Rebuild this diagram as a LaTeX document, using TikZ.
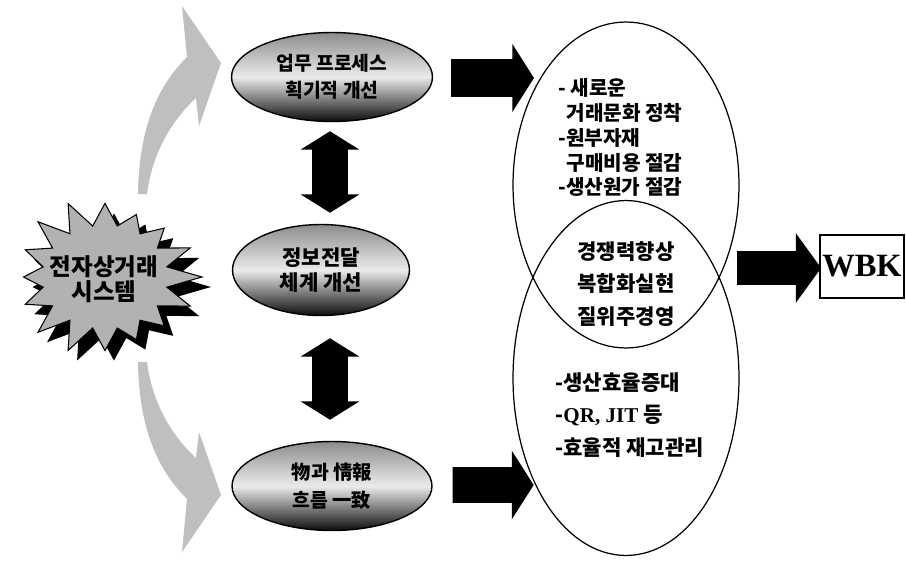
\documentclass[tikz,border=0pt]{standalone}
\usepackage{fontspec}
\setmainfont{Liberation Serif}
\newfontfamily\kr{Noto Sans CJK KR}
\usetikzlibrary{shapes.geometric,shapes.arrows}

\tikzset{
  oval/.style={ellipse, draw=black, line width=0.8pt, top color=black!45, bottom color=black!95,
    middle color=black!8, align=center, inner sep=0pt},
  bigoval/.style={ellipse, draw=black, line width=0.7pt, inner sep=0pt},
  shaft/.style={text height=#1/2, text depth=#1/2, text width=0pt},
  blockarrow/.style={single arrow, fill=black, inner sep=0pt, single arrow tip angle=115},
  twoway/.style={double arrow, fill=black, inner sep=0pt, rotate=90, double arrow tip angle=116,
    minimum height=1.63cm, shaft=0.7cm, double arrow head extend=0.23cm},
  curvearrow/.style={fill=black!25},
}
% spike length of the starburst at angle #1
\pgfmathdeclarefunction{spike}{1}{%
  \pgfmathparse{ifthenelse(iseven(int(round(#1/11.25))),0.92+0.08*cos(3*#1),0.65)}}

\begin{document}
\begin{tikzpicture}[x=0.02cm,y=-0.02cm]
\useasboundingbox (0,0) rectangle (906,561);
% gray curved arrows
\fill[curvearrow] (138,194) .. controls (139,130) and (156,88) .. (187,57) -- (182,6) -- (221,63)
  -- (199,126) -- (196,98) .. controls (170,122) and (152,155) .. (147,194) -- cycle;
\fill[curvearrow] (138,362) .. controls (139,426) and (156,468) .. (187,499) -- (182,552) -- (221,495)
  -- (199,432) -- (196,458) .. controls (170,434) and (152,401) .. (147,362) -- cycle;
% starburst shadow, then starburst
\fill[black] plot[samples at={0,11.25,...,348.75}, variable=\a]
  ({114+97*spike(\a)*cos(\a)},{287+80*spike(\a)*sin(\a)}) -- cycle;
\filldraw[fill=black!30, draw=black, line width=0.6pt] plot[samples at={0,11.25,...,348.75}, variable=\a]
  ({105+97*spike(\a)*cos(\a)},{277+80*spike(\a)*sin(\a)}) -- cycle;
\node[font=\kr\bfseries\fontsize{13.4}{14.5}\selectfont, align=center, inner sep=0pt] (ec) at (104,279) {전자상거래\\시스템};
% three ovals
\node[oval, minimum width=4.02cm, minimum height=1.78cm, font=\kr\bfseries\fontsize{11}{15.3}\selectfont] (proc) at (332,77) {업무 프로세스\\획기적 개선};
\node[oval, minimum width=3.54cm, minimum height=1.82cm, font=\kr\bfseries\fontsize{12}{13.8}\selectfont] (info) at (321,270) {정보전달\\체계 개선};
\node[oval, minimum width=4.0cm, minimum height=1.78cm, font=\kr\bfseries\fontsize{11}{16}\selectfont] (flow) at (332,486) {物과 情報\\흐름 一致};
% double arrows
\node[twoway] (d1) at (330,172) {};
\node[twoway] (d2) at (330,379) {};
% right arrows
\node[blockarrow, minimum height=1.66cm, shaft=0.74cm, single arrow head extend=0.3cm] (a1) at (486.5,78) {};
\node[blockarrow, minimum height=1.62cm, shaft=0.7cm, single arrow head extend=0.33cm] (a2) at (487.5,485) {};
% big ovals
\node[bigoval, minimum width=4.52cm, minimum height=6.52cm] (upper) at (626,185) {};
\node[bigoval, minimum width=4.52cm, minimum height=7.1cm] (lower) at (626,378) {};
\node[anchor=west, align=left, inner sep=0pt, font=\kr\bfseries\fontsize{11.5}{14.2}\selectfont] (ulist) at (558,137.5)
  {- 새로운\\\hspace*{0.4em}거래문화 정착\\-원부자재\\\hspace*{0.4em}구매비용 절감\\-생산원가 절감};
\node[align=center, inner sep=0pt, font=\kr\bfseries\fontsize{12}{18.4}\selectfont] (mid) at (626,284)
  {경쟁력향상\\복합화실현\\질위주경영};
\node[anchor=west, align=left, inner sep=0pt, font=\kr\bfseries\fontsize{12}{18.4}\selectfont] (llist) at (555,415)
  {-생산효율증대\\-{\rmfamily QR, JIT} 등\\-효율적 재고관리};
% WBK
\node[blockarrow, minimum height=1.68cm, shaft=0.66cm, single arrow head extend=0.36cm, single arrow tip angle=108] (a3) at (773,268) {};
\node[draw=black, line width=0.7pt, minimum width=1.68cm, minimum height=1.26cm, inner sep=0pt,
  font=\bfseries\fontsize{18.5}{20}\selectfont] (wbk) at (862,266.5) {WBK};
\end{tikzpicture}
\end{document}
